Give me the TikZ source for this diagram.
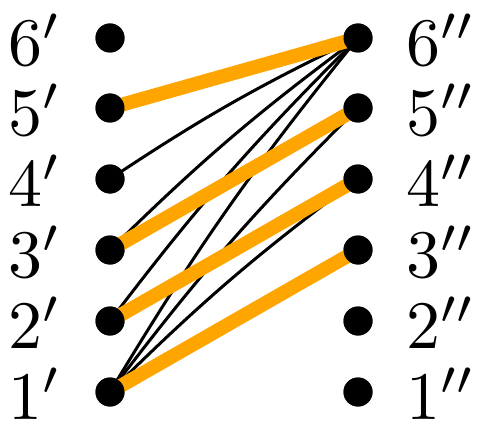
\documentclass[tikz,border=0pt]{standalone}
\begin{document}
\begin{tikzpicture}[x=1pt,y=-1pt,
  dot/.style={circle,fill=black,inner sep=0pt,minimum size=29pt},
  lab/.style={inner sep=0pt,scale=6.8,transform shape},
  thin edge/.style={line width=3pt,black,bend left=4},
  match/.style={line width=14pt,draw={rgb,255:red,255;green,165;blue,0}}]
\useasboundingbox (0,0) rectangle (481,422);
\foreach \i/\y in {6/38,5/108,4/179,3/250,2/321,1/392}{
  \node[dot] (l\i) at (110,\y) {};
  \node[dot] (r\i) at (358,\y) {};
  \node[lab,anchor=base east] (ll\i) at (63,\y+27.5) {$\i'$};
  \node[lab,anchor=base west] (rl\i) at (405,\y+27.5) {$\i''$};
}
\draw[thin edge] (l4.center) to (r6.center);
\draw[thin edge] (l3.center) to (r6.center);
\draw[thin edge] (l2.center) to (r6.center);
\draw[thin edge] (l1.center) to (r6.center);
\draw[thin edge] (l1.center) to (r5.center);
\draw[thin edge] (l1.center) to (r4.center);
\draw[match] (l5.center) -- (r6.center);
\draw[match] (l3.center) -- (r5.center);
\draw[match] (l2.center) -- (r4.center);
\draw[match] (l1.center) -- (r3.center);
\foreach \i in {1,...,6}{
  \node[dot] at (l\i) {};
  \node[dot] at (r\i) {};
}
\end{tikzpicture}
\end{document}
